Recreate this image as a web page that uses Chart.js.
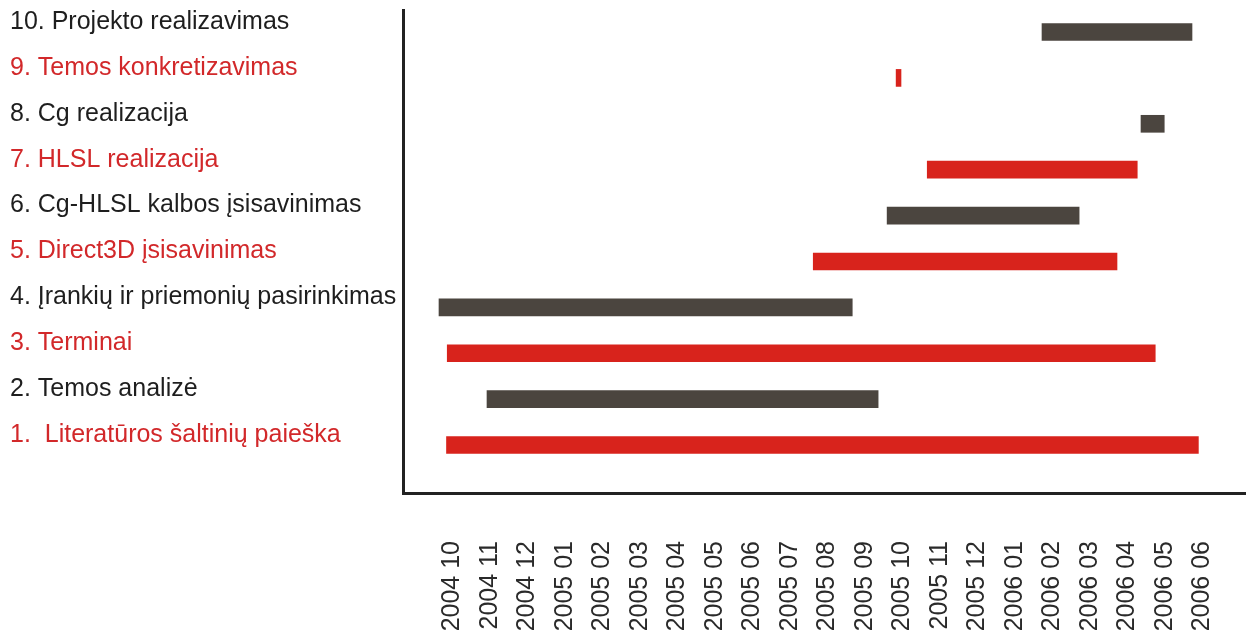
<!DOCTYPE html>
<html>
<head>
<meta charset="utf-8">
<script src="https://cdn.jsdelivr.net/npm/chart.js@4"></script>
<style>
  body { margin: 0; background: #fff; }
</style>
</head>
<body>
<canvas id="gantt" width="1246" height="638"></canvas>
<script>
// tasks, bottom (1) to top (10)
var tasks = [
  '1.  Literatūros šaltinių paieška',
  '2. Temos analizė',
  '3. Terminai',
  '4. Įrankių ir priemonių pasirinkimas',
  '5. Direct3D įsisavinimas',
  '6. Cg-HLSL kalbos įsisavinimas',
  '7. HLSL realizacija',
  '8. Cg realizacija',
  '9. Temos konkretizavimas',
  '10. Projekto realizavimas'
];
// month index, 0 = 2004 10
var startMonth = [-0.15, 0.93, -0.13, -0.35, 9.63, 11.6, 12.67, 18.37, 11.84, 15.73];
var endMonth   = [19.9, 11.36, 18.75, 10.67, 17.73, 16.72, 18.27, 18.99, 11.97, 19.73];
var monthLabels = ['2004 10', '2004 11', '2004 12', '2005 01', '2005 02', '2005 03', '2005 04',
  '2005 05', '2005 06', '2005 07', '2005 08', '2005 09', '2005 10', '2005 11', '2005 12',
  '2006 01', '2006 02', '2006 03', '2006 04', '2006 05', '2006 06'];

var RED = '#d8231c';
var DARK = '#4b453f';

var rows = tasks.map(function (t, i) { return i + 1; });
var bars = rows.map(function (r, i) { return { x: [startMonth[i], endMonth[i]], y: r }; });
var barColors = rows.map(function (r) { return r % 2 ? RED : DARK; });

var ctx = document.getElementById('gantt').getContext('2d');
var chart = new Chart(ctx, {
  type: 'bar',
  data: {
    datasets: [{
      data: bars,
      backgroundColor: barColors,
      barThickness: 17
    }]
  },
  options: {
    responsive: false,
    animation: false,
    indexAxis: 'y',
    layout: { padding: { left: 10, top: 10, right: 0, bottom: 0 } },
    plugins: { legend: { display: false }, tooltip: { enabled: false } },
    scales: {
      x: {
        type: 'linear',
        min: -1.31,
        max: 21.17,
        grid: { display: false, drawTicks: false },
        border: { display: true, color: '#222', width: 3 },
        afterBuildTicks: function (scale) {
          scale.ticks = monthLabels.map(function (l, i) { return { value: i }; });
        },
        afterFit: function (scale) {
          scale.height = 145;
          scale.paddingLeft = 0;
          scale.paddingRight = 0;
        },
        ticks: {
          autoSkip: false,
          minRotation: 90,
          maxRotation: 90,
          padding: 48,
          color: '#2a2a2a',
          font: { family: "'Liberation Sans', Arial, sans-serif", size: 25 },
          callback: function (v) { return monthLabels[v]; }
        }
      },
      y: {
        type: 'linear',
        offset: false,
        min: -0.046,
        max: 10.48,
        grid: { display: false, drawTicks: false },
        border: { display: true, color: '#222', width: 3 },
        afterBuildTicks: function (scale) {
          scale.ticks = rows.map(function (r) { return { value: r }; });
        },
        afterFit: function (scale) {
          scale.width = 393;
          scale.paddingTop = 0;
          scale.paddingBottom = 0;
        },
        ticks: {
          autoSkip: false,
          crossAlign: 'far',
          labelOffset: -10,
          font: { family: "'Liberation Sans', Arial, sans-serif", size: 25 },
          color: function (c) { return c.tick && c.tick.value % 2 ? '#d2282a' : '#1e1e1e'; },
          callback: function (v) { return tasks[v - 1]; }
        }
      }
    }
  }
});
</script>
</body>
</html>
